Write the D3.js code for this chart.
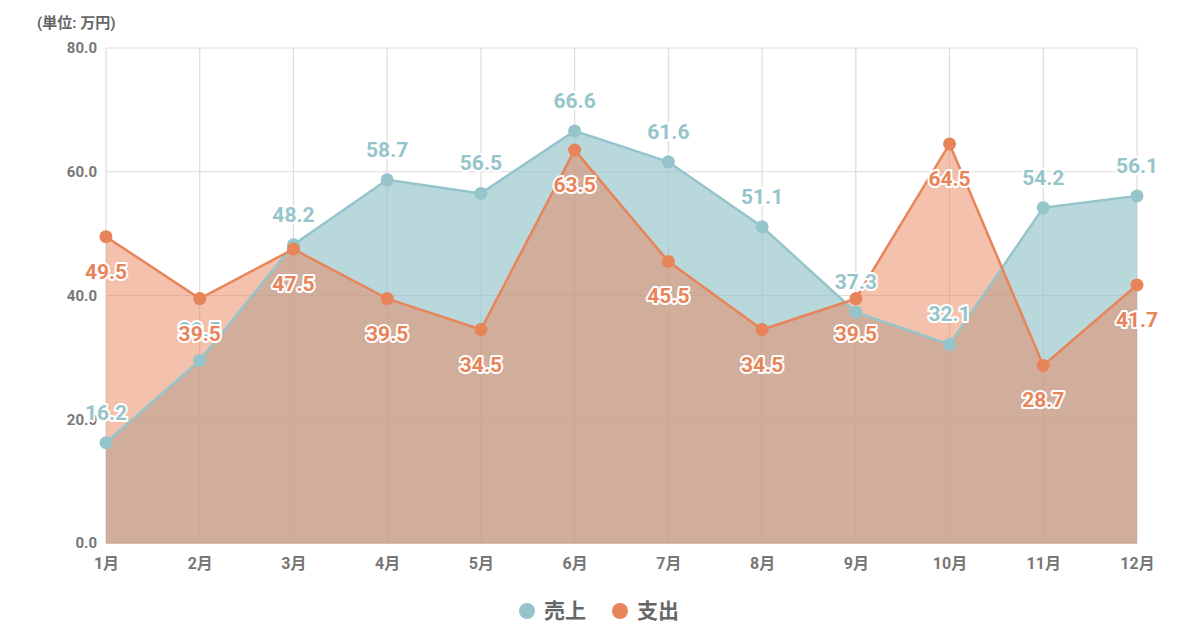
<!DOCTYPE html>
<html><head><meta charset="utf-8">
<script src="https://cdn.jsdelivr.net/npm/d3@7/dist/d3.min.js"></script>
<style>
html,body{margin:0;padding:0;background:#fff;}
svg{display:block;font-family:Roboto,"Noto Sans CJK JP",sans-serif;}
</style></head><body>
<svg id="chart" width="1200" height="628"></svg>
<script>
const months = ["1月","2月","3月","4月","5月","6月","7月","8月","9月","10月","11月","12月"];
const sales = [16.2,29.5,48.2,58.7,56.5,66.6,61.6,51.1,37.3,32.1,54.2,56.1];
const expense = [49.5,39.5,47.5,39.5,34.5,63.5,45.5,34.5,39.5,64.5,28.7,41.7];
const yTicks = [0,20,40,60,80];
const seriesNames = ["売上","支出"];
const unitLabel = "(単位: 万円)";

const svg = d3.select("#chart");
const L = 106, R = 1137, T = 48, B = 543;
const x = d3.scalePoint().domain(months).range([L,R]);
const y = d3.scaleLinear().domain([0,80]).range([B,T]);
const colors = {teal:"#95c5cb", orange:"#e8845a"};

// grid
const g = svg.append("g");
g.selectAll(".hg").data(yTicks).join("line")
  .attr("x1",L).attr("x2",R).attr("y1",d=>y(d)).attr("y2",d=>y(d))
  .attr("stroke","#dcdcdc").attr("stroke-width",1.2);
g.selectAll(".vg").data(months).join("line")
  .attr("x1",d=>x(d)).attr("x2",d=>x(d)).attr("y1",T).attr("y2",B)
  .attr("stroke","#dcdcdc").attr("stroke-width",1.2);

// axes labels
const yAxis = d3.axisLeft(y).tickValues(yTicks).tickFormat(d3.format(".1f")).tickSize(0).tickPadding(9);
svg.append("g").attr("transform",`translate(${L},0)`).call(yAxis)
  .call(a=>a.select(".domain").remove())
  .selectAll("text").attr("fill","#777").attr("font-size",15).attr("font-weight","bold")
  .attr("font-family","Roboto,'Noto Sans CJK JP',sans-serif");
const xAxis = d3.axisBottom(x).tickSize(0).tickPadding(15);
svg.append("g").attr("transform",`translate(0,${B})`).call(xAxis)
  .call(a=>a.select(".domain").remove())
  .selectAll("text").attr("fill","#777").attr("font-size",16).attr("font-weight","bold")
  .attr("font-family","Roboto,'Noto Sans CJK JP',sans-serif");

svg.append("text").attr("x",37).attr("y",28).text(unitLabel)
  .attr("fill","#666").attr("font-size",15).attr("font-weight","bold");

const area = d3.area().x((d,i)=>x(months[i])).y0(B).y1(d=>y(d));
const line = d3.line().x((d,i)=>x(months[i])).y(d=>y(d));

function drawArea(data,color,op){
  svg.append("path").datum(data).attr("d",area).attr("fill",color).attr("fill-opacity",op);
}
function drawLine(data,color){
  svg.append("path").datum(data).attr("d",line).attr("fill","none").attr("stroke",color).attr("stroke-width",2.5);
  svg.append("g").selectAll("circle").data(data).join("circle")
    .attr("cx",(d,i)=>x(months[i])).attr("cy",d=>y(d)).attr("r",6.5).attr("fill",color);
}
drawArea(sales,colors.teal,0.67);
drawArea(expense,colors.orange,0.5);
// x axis baseline
svg.append("line").attr("x1",L).attr("x2",R).attr("y1",B).attr("y2",B).attr("stroke","#c8a898").attr("stroke-width",1.5);
drawLine(sales,colors.teal);
drawLine(expense,colors.orange);

function labels(data,color,dy){
  svg.append("g").selectAll("text").data(data).join("text")
    .attr("x",(d,i)=>x(months[i])).attr("y",d=>y(d)+dy)
    .attr("text-anchor","middle").attr("font-size",21).attr("font-weight","bold")
    .attr("fill",color).attr("stroke","#fff").attr("stroke-width",4).attr("paint-order","stroke")
    .attr("stroke-linejoin","round")
    .text(d=>d.toFixed(1));
}
labels(sales,colors.teal,-23);
labels(expense,colors.orange,42);

// legend
const leg = svg.append("g");
const legItems = [{n:seriesNames[0],c:colors.teal,x:527},{n:seriesNames[1],c:colors.orange,x:620}];
legItems.forEach(it=>{
  leg.append("circle").attr("cx",it.x).attr("cy",611).attr("r",8).attr("fill",it.c);
  leg.append("text").attr("x",it.x+17).attr("y",618).text(it.n)
    .attr("fill","#666").attr("font-size",21).attr("font-weight","bold");
});
</script></body></html>
